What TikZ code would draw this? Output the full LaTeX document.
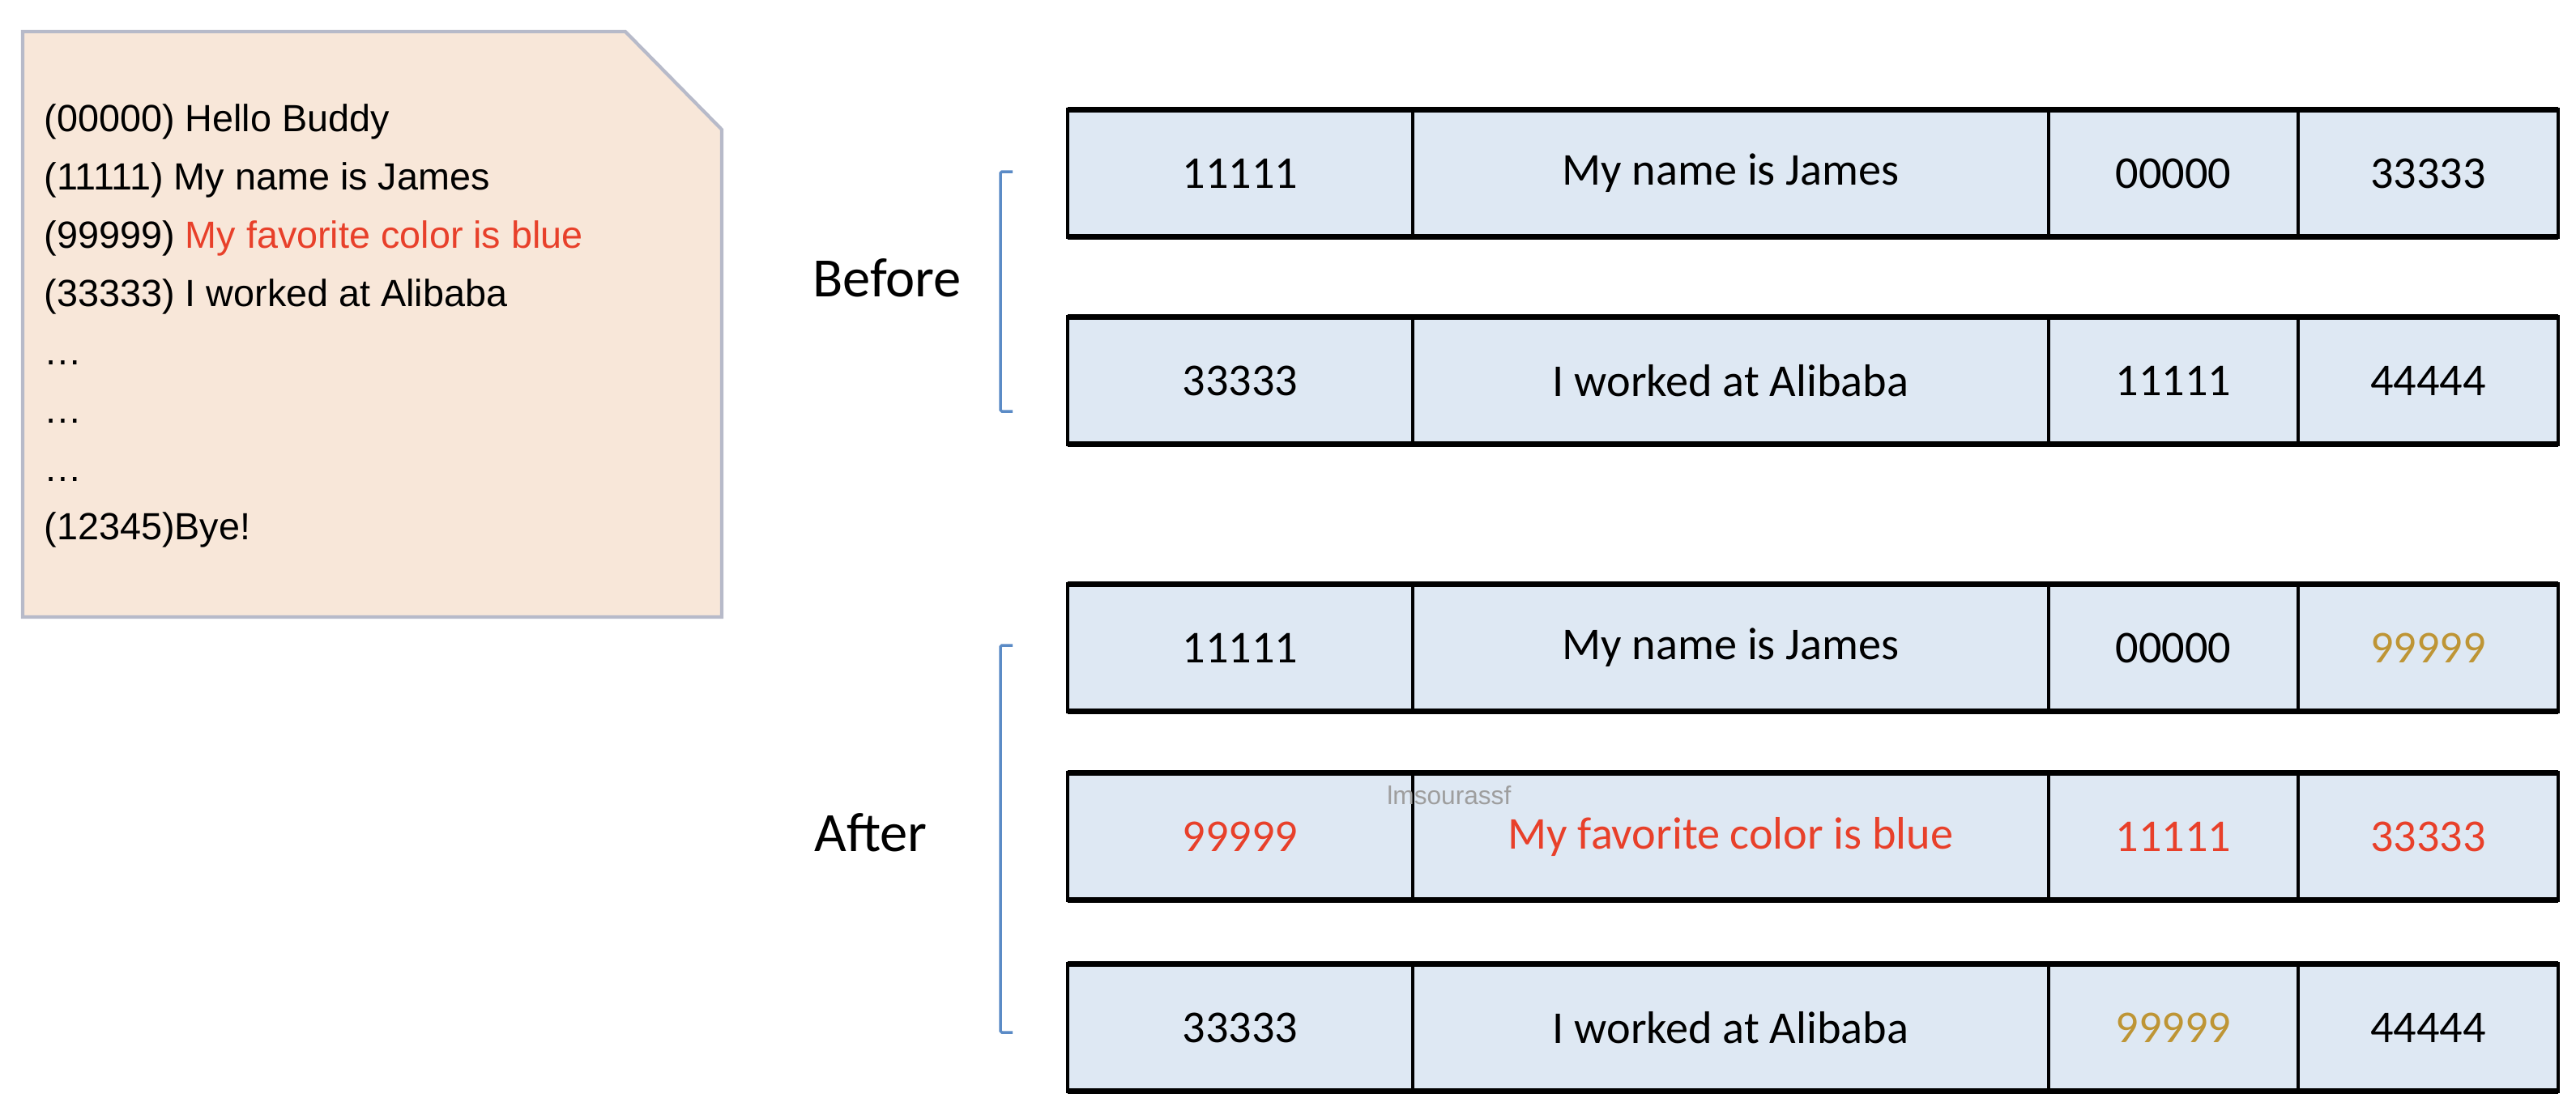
\documentclass[tikz,border=0pt]{standalone}
\usepackage{fontspec}
\setmainfont{Carlito}
\newfontfamily\notefont{Liberation Sans}
\usepackage{xcolor}
\usetikzlibrary{positioning}

\definecolor{notefill}{HTML}{F8E7D9}
\definecolor{noteline}{HTML}{B7BAC9}
\definecolor{cellfill}{HTML}{DEE8F3}
\definecolor{hotred}{HTML}{E8402A}
\definecolor{oldgold}{HTML}{BE9535}
\definecolor{bracketblue}{HTML}{5B8BC6}

\tikzset{
  cell/.style={draw, fill=cellfill, line width=1.3pt, minimum height=1.57cm,
    inner sep=0pt, outer sep=0pt, font=\fontsize{16}{19}\selectfont},
  notetext/.style={anchor=base west, inner sep=0pt, font=\notefont\fontsize{13.3}{16}\selectfont},
  label/.style={font=\fontsize{19.5}{23}\selectfont},
  bracket/.style={bracketblue, line width=1pt, rounded corners=0.5pt}
}

\begin{document}
\begin{tikzpicture}
\useasboundingbox (0,0) rectangle (31.8,-13.76);
% the log file
\draw[fill=notefill, draw=noteline, line width=1.2pt] (0.28,-0.39) -- (7.72,-0.39) -- (8.91,-1.60) -- (8.91,-7.62) -- (0.28,-7.62) -- cycle;
\foreach \i/\y/\t in {1/1.62/{(00000) Hello Buddy},2/2.34/{(11111) My name is James},
  3/3.06/{(99999) \textcolor{hotred}{My favorite color is blue}},4/3.78/{(33333) I worked at Alibaba},
  5/4.50/{…},6/5.22/{…},7/5.94/{…},8/6.66/{(12345)Bye!}}{
\node[notetext] (line\i) at (0.54,-\y) {\t};}

% labels and brackets
\node[label] (before) at (10.95,-3.43) {Before};
\node[label] (after) at (10.75,-10.28) {After};
\draw[bracket] (12.50,-2.12) -- (12.35,-2.12) -- (12.35,-5.08) -- (12.50,-5.08);
\draw[bracket] (12.50,-7.97) -- (12.35,-7.97) -- (12.35,-12.75) -- (12.50,-12.75);

% records
\foreach \r/\y/\ta/\tb/\tc/\td in {
  b1/2.14/11111/My name is James/00000/33333,
  b2/4.70/33333/I worked at Alibaba/11111/44444,
  a1/8.00/11111/My name is James/00000/\textcolor{oldgold}{99999},
  a2/10.33/\textcolor{hotred}{99999}/\textcolor{hotred}{My favorite color is blue}/\textcolor{hotred}{11111}/\textcolor{hotred}{33333},
  a3/12.69/33333/I worked at Alibaba/\textcolor{oldgold}{99999}/44444}{
\node[cell, minimum width=4.26cm] (\r-c1) at (15.31,-\y) {\ta};
\node[cell, minimum width=7.85cm, right=0pt of \r-c1] (\r-c2) {\tb};
\node[cell, minimum width=3.08cm, right=0pt of \r-c2] (\r-c3) {\tc};
\node[cell, minimum width=3.21cm, right=0pt of \r-c3] (\r-c4) {\td};
\draw[line width=2pt] (\r-c1.north west) -- (\r-c4.north east);
\draw[line width=2pt] (\r-c1.south west) -- (\r-c4.south east);
}

\node[anchor=west, text=black!38, font=\notefont\fontsize{9}{11}\selectfont] (mark) at (17.0,-9.82) {lmsourassf};
\end{tikzpicture}
\end{document}
